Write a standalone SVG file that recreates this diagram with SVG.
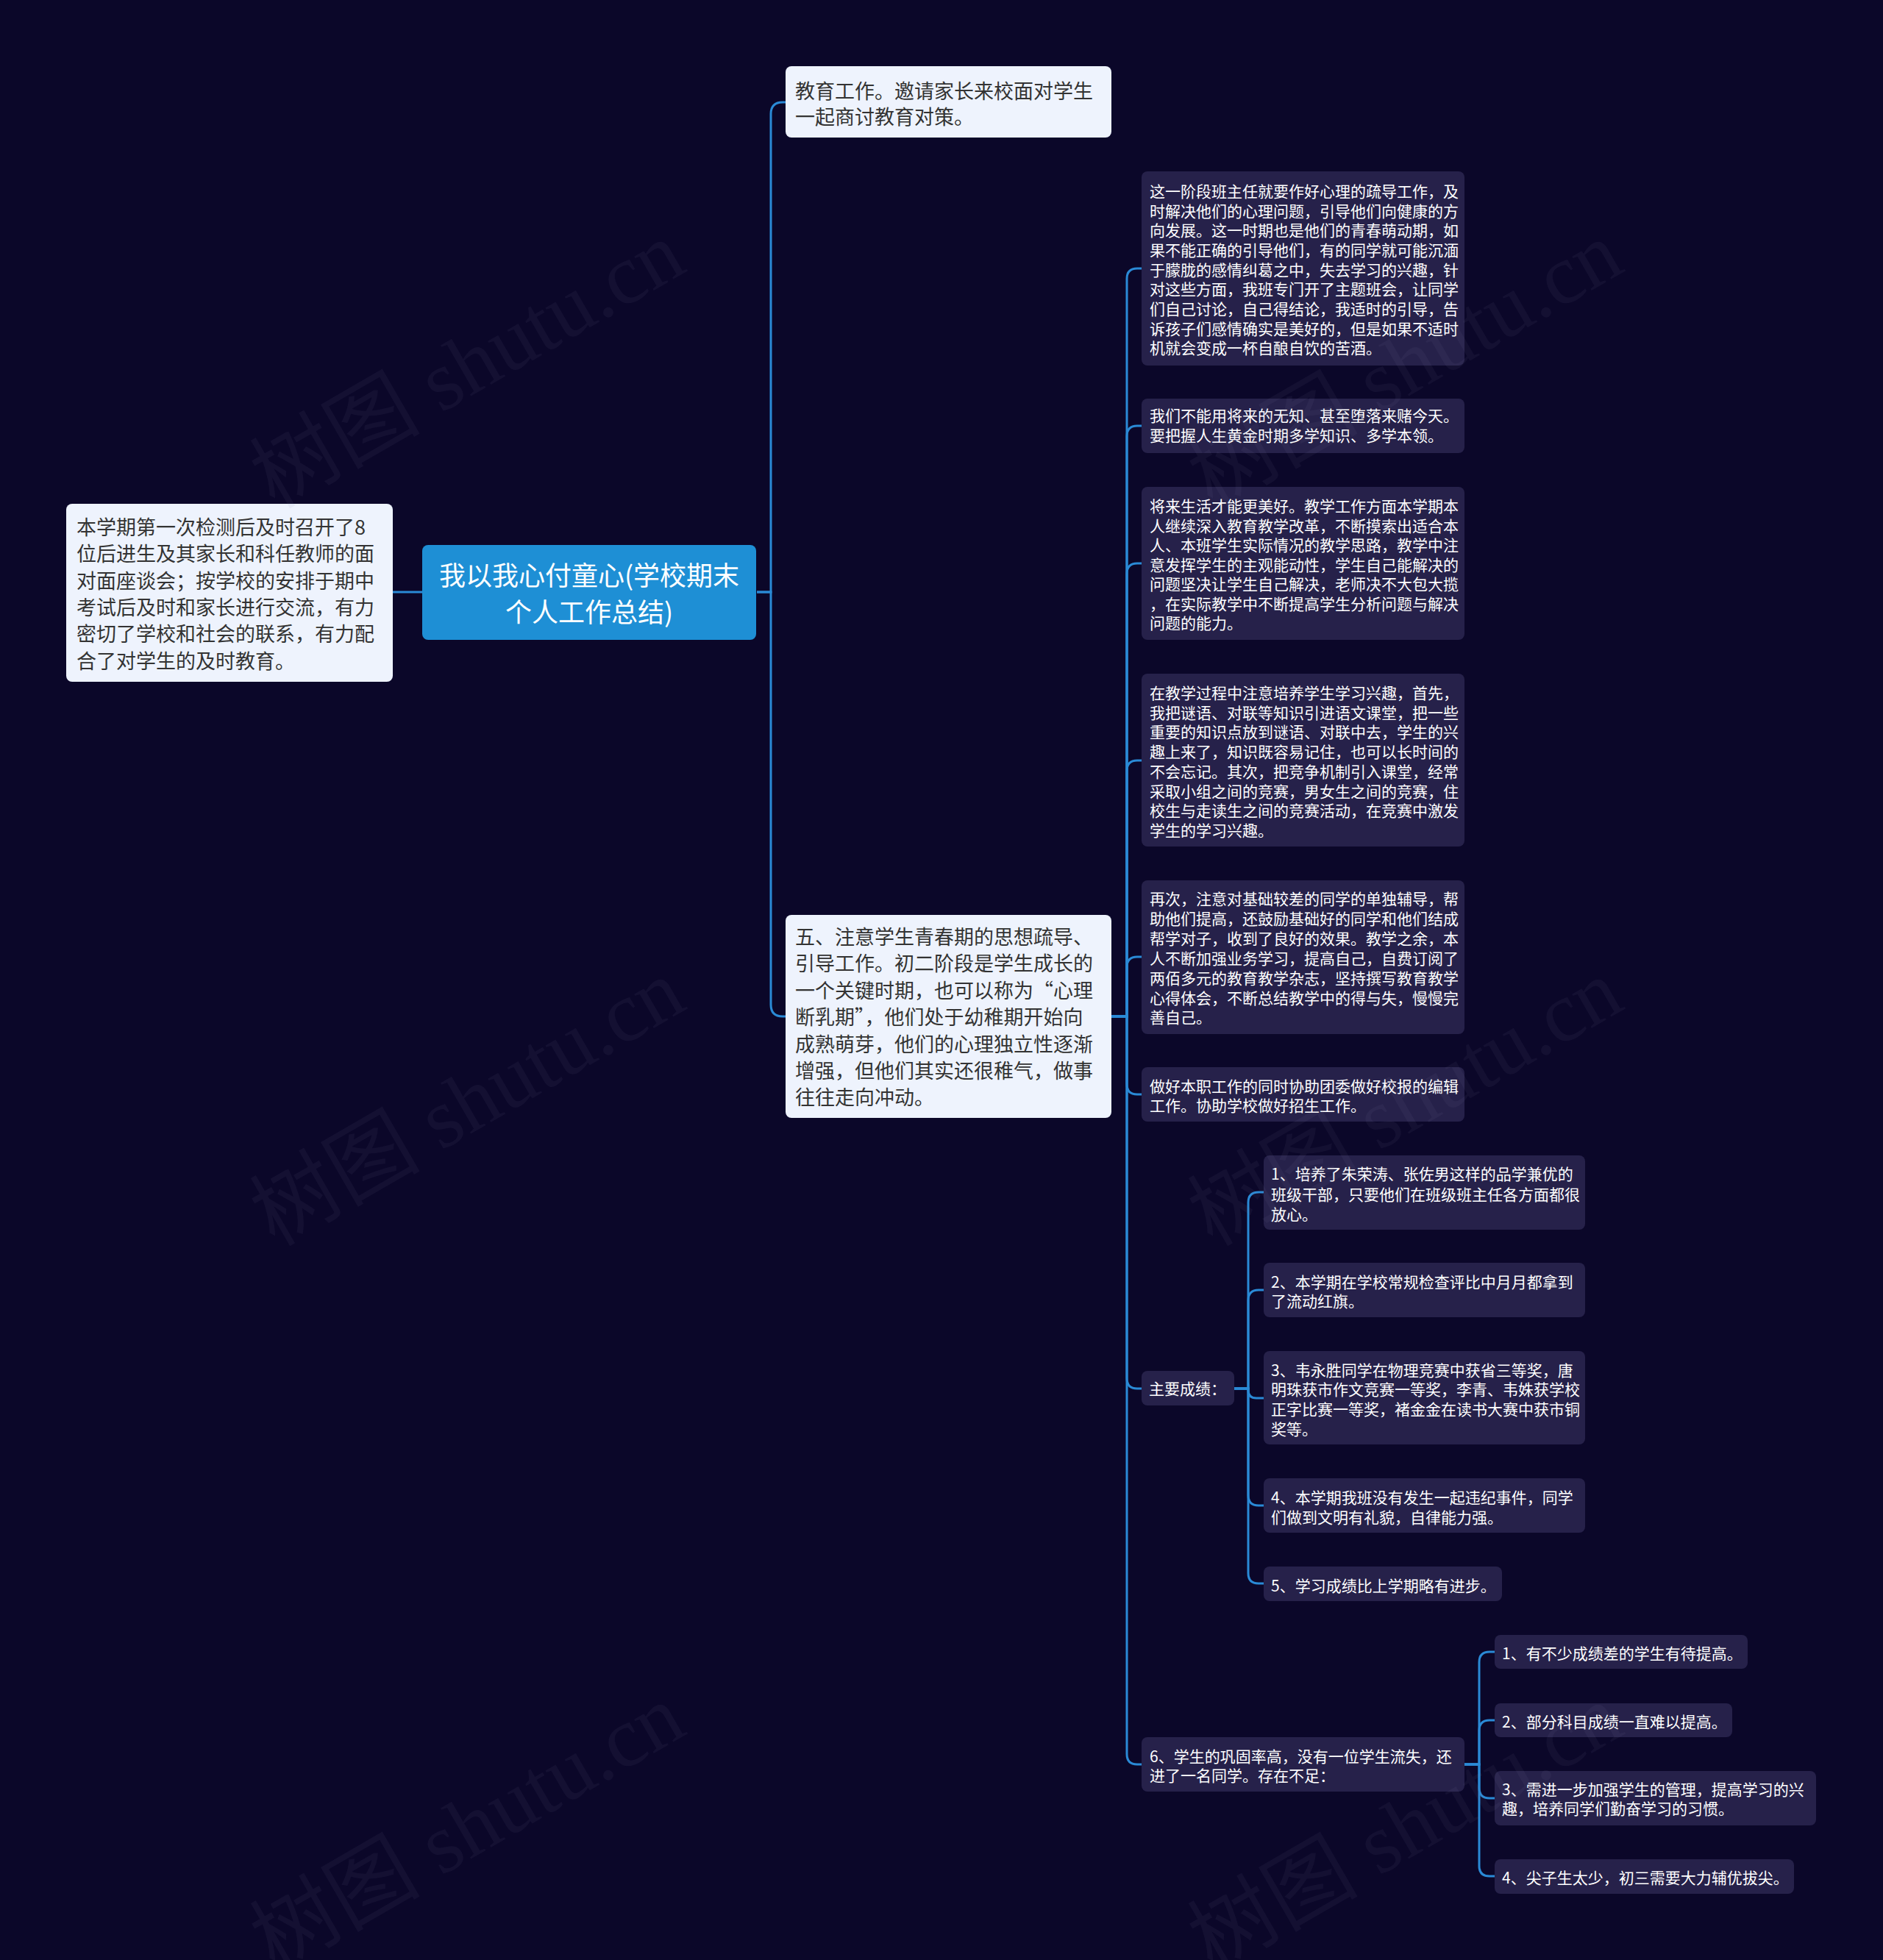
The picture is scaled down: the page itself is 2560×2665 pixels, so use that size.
<svg xmlns="http://www.w3.org/2000/svg" width="2560" height="2665" viewBox="0 0 2560 2665">
<style>
.light{fill:#eef3fd}
.dark{fill:#26214a}
.rootbox{fill:#1e8fd5}
text{font-family:"Noto Sans CJK SC","Noto Sans",sans-serif}
.t1{font-size:27px;fill:#333333}
.t2{font-size:21px;fill:#ffffff}
.tr{font-size:36px;fill:#ffffff;text-anchor:middle}
.conn{fill:none;stroke:#2a8ad6;stroke-width:3}
.wm{font-family:"Liberation Serif","Noto Sans CJK SC",serif;font-size:116px;fill:#8080a0;fill-opacity:0.08;text-anchor:middle}
</style>
<rect x="0" y="0" width="2560" height="2665" fill="#0b0729"/>

<g id="connectors">
<path class="conn" d="M574,805 H534"/>
<path class="conn" d="M1029,805 H1048 V155 Q1048,139 1064,139 H1068"/>
<path class="conn" d="M1029,805 H1048 V1366 Q1048,1382 1064,1382 H1068"/>
<path class="conn" d="M1511,1382 H1532 V379 Q1532,365 1546,365 H1552"/>
<path class="conn" d="M1511,1382 H1532 V593 Q1532,579 1546,579 H1552"/>
<path class="conn" d="M1511,1382 H1532 V780 Q1532,766 1546,766 H1552"/>
<path class="conn" d="M1511,1382 H1532 V1048 Q1532,1034 1546,1034 H1552"/>
<path class="conn" d="M1511,1382 H1532 V1315 Q1532,1301 1546,1301 H1552"/>
<path class="conn" d="M1511,1382 H1532 V1474 Q1532,1488 1546,1488 H1552"/>
<path class="conn" d="M1511,1382 H1532 V1874 Q1532,1888 1546,1888 H1552"/>
<path class="conn" d="M1511,1382 H1532 V2385 Q1532,2399 1546,2399 H1552"/>
<path class="conn" d="M1678,1888 H1697 V1635 Q1697,1621 1711,1621 H1718"/>
<path class="conn" d="M1678,1888 H1697 V1768 Q1697,1754 1711,1754 H1718"/>
<path class="conn" d="M1678,1888 H1697 V1890 Q1697,1901 1708,1901 H1718"/>
<path class="conn" d="M1678,1888 H1697 V2033 Q1697,2047 1711,2047 H1718"/>
<path class="conn" d="M1678,1888 H1697 V2139 Q1697,2153 1711,2153 H1718"/>
<path class="conn" d="M1991,2399 H2011 V2260 Q2011,2246 2025,2246 H2032"/>
<path class="conn" d="M1991,2399 H2011 V2353 Q2011,2339 2025,2339 H2032"/>
<path class="conn" d="M1991,2399 H2011 V2431 Q2011,2445 2025,2445 H2032"/>
<path class="conn" d="M1991,2399 H2011 V2537 Q2011,2551 2025,2551 H2032"/>
</g>

<g id="root">
<rect class="rootbox" x="574" y="741" width="454" height="129" rx="8"/>
<text class="tr"><tspan x="801" y="796">我以我心付童心(学校期末</tspan><tspan x="801" y="846">个人工作总结)</tspan></text>
</g>

<g id="n-left">
<rect class="light" x="90" y="685" width="444" height="242" rx="8"/>
<text class="t1"><tspan x="104" y="727">本学期第一次检测后及时召开了8</tspan><tspan x="104" y="763.3">位后进生及其家长和科任教师的面</tspan><tspan x="104" y="799.6">对面座谈会；按学校的安排于期中</tspan><tspan x="104" y="835.9">考试后及时和家长进行交流，有力</tspan><tspan x="104" y="872.2">密切了学校和社会的联系，有力配</tspan><tspan x="104" y="908.5">合了对学生的及时教育。</tspan></text>
</g>

<g id="n-1">
<rect class="light" x="1068" y="90" width="443" height="97" rx="8"/>
<text class="t1"><tspan x="1081" y="133.5">教育工作。邀请家长来校面对学生</tspan><tspan x="1081" y="168.5">一起商讨教育对策。</tspan></text>
</g>

<g id="n-5">
<rect class="light" x="1068" y="1244" width="443" height="276" rx="8"/>
<text class="t1"><tspan x="1081" y="1284">五、注意学生青春期的思想疏导、</tspan><tspan x="1081" y="1320.4">引导工作。初二阶段是学生成长的</tspan><tspan x="1081" y="1356.8">一个关键时期，也可以称为“心理</tspan><tspan x="1081" y="1393.2">断乳期”，他们处于幼稚期开始向</tspan><tspan x="1081" y="1429.6">成熟萌芽，他们的心理独立性逐渐</tspan><tspan x="1081" y="1466">增强，但他们其实还很稚气，做事</tspan><tspan x="1081" y="1502.4">往往走向冲动。</tspan></text>
</g>

<g id="n-5a">
<rect class="dark" x="1552" y="233" width="439" height="264" rx="8"/>
<text class="t2"><tspan x="1563" y="268">这一阶段班主任就要作好心理的疏导工作，及</tspan><tspan x="1563" y="294.7">时解决他们的心理问题，引导他们向健康的方</tspan><tspan x="1563" y="321.3">向发展。这一时期也是他们的青春萌动期，如</tspan><tspan x="1563" y="348">果不能正确的引导他们，有的同学就可能沉湎</tspan><tspan x="1563" y="374.7">于朦胧的感情纠葛之中，失去学习的兴趣，针</tspan><tspan x="1563" y="401.3">对这些方面，我班专门开了主题班会，让同学</tspan><tspan x="1563" y="428">们自己讨论，自己得结论，我适时的引导，告</tspan><tspan x="1563" y="454.7">诉孩子们感情确实是美好的，但是如果不适时</tspan><tspan x="1563" y="481.3">机就会变成一杯自酿自饮的苦酒。</tspan></text>
</g>

<g id="n-5b">
<rect class="dark" x="1552" y="542" width="439" height="74" rx="8"/>
<text class="t2"><tspan x="1563" y="573">我们不能用将来的无知、甚至堕落来赌今天。</tspan><tspan x="1563" y="600">要把握人生黄金时期多学知识、多学本领。</tspan></text>
</g>

<g id="n-5c">
<rect class="dark" x="1552" y="662" width="439" height="208" rx="8"/>
<text class="t2"><tspan x="1563" y="696">将来生活才能更美好。教学工作方面本学期本</tspan><tspan x="1563" y="722.5">人继续深入教育教学改革，不断摸索出适合本</tspan><tspan x="1563" y="749">人、本班学生实际情况的教学思路，教学中注</tspan><tspan x="1563" y="775.5">意发挥学生的主观能动性，学生自己能解决的</tspan><tspan x="1563" y="802">问题坚决让学生自己解决，老师决不大包大揽</tspan><tspan x="1563" y="828.5">，在实际教学中不断提高学生分析问题与解决</tspan><tspan x="1563" y="855">问题的能力。</tspan></text>
</g>

<g id="n-5d">
<rect class="dark" x="1552" y="916" width="439" height="235" rx="8"/>
<text class="t2"><tspan x="1563" y="950">在教学过程中注意培养学生学习兴趣，首先，</tspan><tspan x="1563" y="976.7">我把谜语、对联等知识引进语文课堂，把一些</tspan><tspan x="1563" y="1003.4">重要的知识点放到谜语、对联中去，学生的兴</tspan><tspan x="1563" y="1030.1">趣上来了，知识既容易记住，也可以长时间的</tspan><tspan x="1563" y="1056.8">不会忘记。其次，把竞争机制引入课堂，经常</tspan><tspan x="1563" y="1083.5">采取小组之间的竞赛，男女生之间的竞赛，住</tspan><tspan x="1563" y="1110.2">校生与走读生之间的竞赛活动，在竞赛中激发</tspan><tspan x="1563" y="1136.9">学生的学习兴趣。</tspan></text>
</g>

<g id="n-5e">
<rect class="dark" x="1552" y="1197" width="439" height="209" rx="8"/>
<text class="t2"><tspan x="1563" y="1230">再次，注意对基础较差的同学的单独辅导，帮</tspan><tspan x="1563" y="1256.9">助他们提高，还鼓励基础好的同学和他们结成</tspan><tspan x="1563" y="1283.8">帮学对子，收到了良好的效果。教学之余，本</tspan><tspan x="1563" y="1310.7">人不断加强业务学习，提高自己，自费订阅了</tspan><tspan x="1563" y="1337.6">两佰多元的教育教学杂志，坚持撰写教育教学</tspan><tspan x="1563" y="1364.5">心得体会，不断总结教学中的得与失，慢慢完</tspan><tspan x="1563" y="1391.4">善自己。</tspan></text>
</g>

<g id="n-5f">
<rect class="dark" x="1552" y="1451" width="439" height="74" rx="8"/>
<text class="t2"><tspan x="1563" y="1485">做好本职工作的同时协助团委做好校报的编辑</tspan><tspan x="1563" y="1511">工作。协助学校做好招生工作。</tspan></text>
</g>

<g id="n-5g">
<rect class="dark" x="1552" y="1864" width="126" height="47" rx="8"/>
<text class="t2"><tspan x="1562" y="1896">主要成绩：</tspan></text>
</g>

<g id="n-5g1">
<rect class="dark" x="1718" y="1571" width="437" height="101" rx="8"/>
<text class="t2"><tspan x="1728" y="1604">1、培养了朱荣涛、张佐男这样的品学兼优的</tspan><tspan x="1728" y="1631.5">班级干部，只要他们在班级班主任各方面都很</tspan><tspan x="1728" y="1659">放心。</tspan></text>
</g>

<g id="n-5g2">
<rect class="dark" x="1718" y="1717" width="437" height="74" rx="8"/>
<text class="t2"><tspan x="1728" y="1751">2、本学期在学校常规检查评比中月月都拿到</tspan><tspan x="1728" y="1777">了流动红旗。</tspan></text>
</g>

<g id="n-5g3">
<rect class="dark" x="1718" y="1837" width="437" height="127" rx="8"/>
<text class="t2"><tspan x="1728" y="1870.5">3、韦永胜同学在物理竞赛中获省三等奖，唐</tspan><tspan x="1728" y="1897.2">明珠获市作文竞赛一等奖，李青、韦姝获学校</tspan><tspan x="1728" y="1923.9">正字比赛一等奖，褚金金在读书大赛中获市铜</tspan><tspan x="1728" y="1950.6">奖等。</tspan></text>
</g>

<g id="n-5g4">
<rect class="dark" x="1718" y="2010" width="437" height="74" rx="8"/>
<text class="t2"><tspan x="1728" y="2044">4、本学期我班没有发生一起违纪事件，同学</tspan><tspan x="1728" y="2070.5">们做到文明有礼貌，自律能力强。</tspan></text>
</g>

<g id="n-5g5">
<rect class="dark" x="1718" y="2130" width="324" height="47" rx="8"/>
<text class="t2"><tspan x="1728" y="2164">5、学习成绩比上学期略有进步。</tspan></text>
</g>

<g id="n-5h">
<rect class="dark" x="1552" y="2362" width="439" height="74" rx="8"/>
<text class="t2"><tspan x="1563" y="2395.5">6、学生的巩固率高，没有一位学生流失，还</tspan><tspan x="1563" y="2422">进了一名同学。存在不足：</tspan></text>
</g>

<g id="n-5h1">
<rect class="dark" x="2032" y="2223" width="344" height="46" rx="8"/>
<text class="t2"><tspan x="2042" y="2255.5">1、有不少成绩差的学生有待提高。</tspan></text>
</g>

<g id="n-5h2">
<rect class="dark" x="2032" y="2316" width="323" height="46" rx="8"/>
<text class="t2"><tspan x="2042" y="2349">2、部分科目成绩一直难以提高。</tspan></text>
</g>

<g id="n-5h3">
<rect class="dark" x="2032" y="2408" width="437" height="74" rx="8"/>
<text class="t2"><tspan x="2042" y="2440.5">3、需进一步加强学生的管理，提高学习的兴</tspan><tspan x="2042" y="2467">趣，培养同学们勤奋学习的习惯。</tspan></text>
</g>

<g id="n-5h4">
<rect class="dark" x="2032" y="2528" width="407" height="47" rx="8"/>
<text class="t2"><tspan x="2042" y="2560.5">4、尖子生太少，初三需要大力辅优拔尖。</tspan></text>
</g>

<g id="watermarks">
<text class="wm" transform="translate(655,530) rotate(-30)">树图 shutu.cn</text>
<text class="wm" transform="translate(655,1533) rotate(-30)">树图 shutu.cn</text>
<text class="wm" transform="translate(655,2519) rotate(-30)">树图 shutu.cn</text>
<text class="wm" transform="translate(1930,530) rotate(-30)">树图 shutu.cn</text>
<text class="wm" transform="translate(1930,1533) rotate(-30)">树图 shutu.cn</text>
<text class="wm" transform="translate(1930,2519) rotate(-30)">树图 shutu.cn</text>
</g>
</svg>
